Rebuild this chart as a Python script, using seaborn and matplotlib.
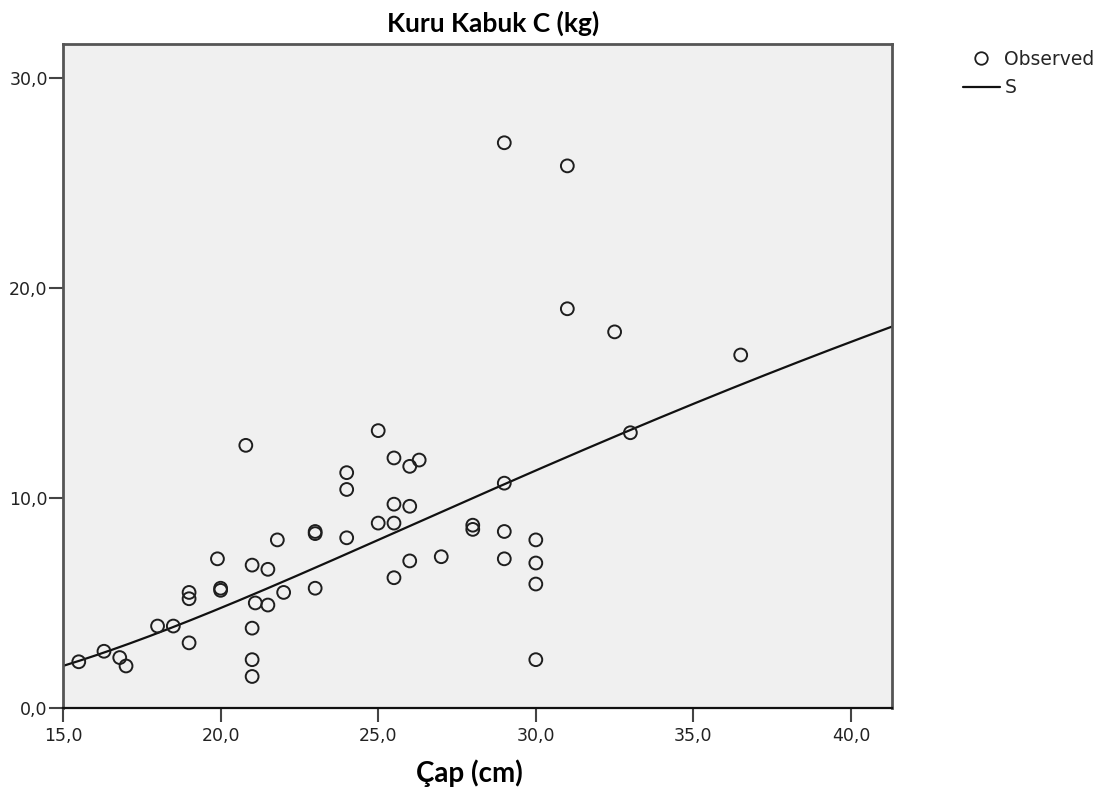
import numpy as np
import pandas as pd
import matplotlib
matplotlib.use("Agg")
import matplotlib.pyplot as plt
from matplotlib.lines import Line2D
import seaborn as sns

# Diameter (cm) and dry bark mass (kg) of the sampled trees
cap_cm = [15.5, 16.3, 16.8, 17.0, 18.0, 18.5, 19.0, 19.0, 19.0, 19.9,
          20.0, 20.0, 20.8, 21.0, 21.5, 21.8, 21.1, 21.5, 22.0, 21.0,
          21.0, 21.0, 23.0, 23.0, 23.0, 24.0, 24.0, 24.0, 25.0, 25.0,
          25.5, 25.5, 25.5, 25.5, 26.0, 26.3, 26.0, 26.0, 27.0, 28.0,
          28.0, 29.0, 29.0, 29.0, 30.0, 30.0, 30.0, 30.0, 29.0, 31.0,
          31.0, 32.5, 33.0, 36.5]
kabuk_kg = [2.2, 2.7, 2.4, 2.0, 3.9, 3.9, 3.1, 5.5, 5.2, 7.1,
            5.6, 5.7, 12.5, 6.8, 6.6, 8.0, 5.0, 4.9, 5.5, 3.8,
            2.3, 1.5, 8.3, 8.4, 5.7, 11.2, 10.4, 8.1, 13.2, 8.8,
            11.9, 9.7, 8.8, 6.2, 11.5, 11.8, 9.6, 7.0, 7.2, 8.5,
            8.7, 10.7, 8.4, 7.1, 8.0, 6.9, 5.9, 2.3, 26.9, 25.8,
            19.0, 17.9, 13.1, 16.8]

x_ticks = [15, 20, 25, 30, 35, 40]
y_ticks = [0, 10, 20, 30]

df = pd.DataFrame({"cap": cap_cm, "kabuk": kabuk_kg})

# S-curve model: ln(y) = b0 + b1 / x, fitted by least squares
b1, b0 = np.polyfit(1.0 / df["cap"], np.log(df["kabuk"]), 1)
x_min, x_max = 15.0, 41.3
curve = pd.DataFrame({"cap": np.linspace(x_min, x_max, 300)})
curve["kabuk"] = np.exp(b0 + b1 / curve["cap"])

sns.set_theme(style="ticks")
plt.rcParams["font.family"] = ["DejaVu Sans"]

fig = plt.figure(figsize=(11.06, 7.92), dpi=100)
ax = fig.add_axes([63 / 1106, 1 - 708 / 792, (892 - 63) / 1106, (708 - 44) / 792])
ax.set_facecolor("#F0F0F0")

sns.scatterplot(data=df, x="cap", y="kabuk", ax=ax, marker="o", s=85,
                facecolors="none", edgecolor="#1e1e1e", linewidth=1.4,
                legend=False, zorder=3)
sns.lineplot(data=curve, x="cap", y="kabuk", ax=ax, color="#111111",
             linewidth=1.6, legend=False, zorder=2)

ax.set_xlim(x_min, x_max)
ax.set_ylim(0, 31.6)
ax.set_xticks(x_ticks)
ax.set_yticks(y_ticks)
ax.set_xticklabels([f"{v:.1f}".replace(".", ",") for v in x_ticks])
ax.set_yticklabels([f"{v:.1f}".replace(".", ",") for v in y_ticks])
ax.tick_params(axis="both", which="major", bottom=True, left=True,
               top=False, right=False, direction="out", length=10, width=1.5,
               color="#444444", labelsize=12.5, labelcolor="#222222")
ax.tick_params(axis="y", pad=1)
ax.tick_params(axis="x", pad=3.5)

for side in ["left", "top", "right"]:
    ax.spines[side].set_visible(True)
    ax.spines[side].set_color("#555555")
    ax.spines[side].set_linewidth(2)
ax.spines["bottom"].set_color("#111111")
ax.spines["bottom"].set_linewidth(1.6)

ax.set_xlabel("Çap (cm)", fontsize=20, fontweight="bold",
              family=["Lato", "DejaVu Sans"], color="#000000")
ax.xaxis.set_label_coords(0.49, -0.078)
ax.set_ylabel("")
ax.set_title("Kuru Kabuk C (kg)", fontsize=19, fontweight="bold",
             family=["Lato", "DejaVu Sans"], color="#000000", pad=9,
             x=0.519)

handles = [
    Line2D([], [], linestyle="none", marker="o", markersize=9,
           markerfacecolor="none", markeredgecolor="#1e1e1e", markeredgewidth=1.3),
    Line2D([], [], color="#111111", linewidth=1.6),
]
fig.legend(handles, ["Observed", "S"], loc="upper left",
           bbox_to_anchor=(963 / 1106, 1 - 50 / 792), frameon=False,
           fontsize=13.5, handlelength=1.95, handletextpad=0.25,
           labelspacing=0.5, borderpad=0, borderaxespad=0)

fig.savefig("out.png", dpi=100)
